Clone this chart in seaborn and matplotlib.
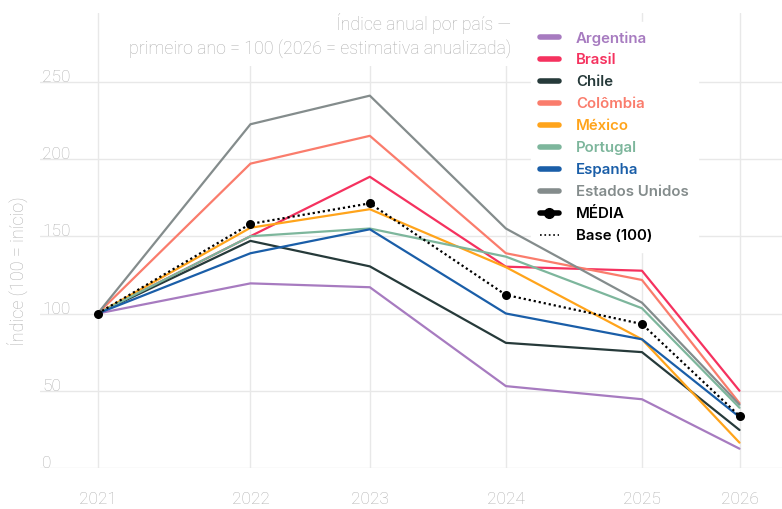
import numpy as np
import pandas as pd
import matplotlib
matplotlib.use("Agg")
import matplotlib.pyplot as plt
import seaborn as sns
from matplotlib.lines import Line2D
from matplotlib.transforms import blended_transform_factory

# ---------------- data ----------------
anos = ["2021", "2022", "2023", "2024", "2025", "2026"]
pos_x = [0.0, 1.19, 2.12, 3.18, 4.24, 5.0]   # position of each year on the (uneven) time axis

paises = ["Argentina", "Brasil", "Chile", "Colômbia", "México",
          "Portugal", "Espanha", "Estados Unidos"]
argentina = [100, 119.5, 117.0, 53.0, 44.5, 12.5]
brasil    = [100, 150.0, 188.5, 130.3, 127.7, 50.0]
chile     = [100, 147.0, 130.5, 81.0, 75.0, 24.6]
colombia  = [100, 197.0, 215.0, 139.0, 121.7, 42.0]
mexico    = [100, 155.5, 167.5, 130.0, 83.3, 16.4]
portugal  = [100, 150.0, 155.0, 136.8, 103.4, 39.0]
espanha   = [100, 139.0, 154.5, 100.0, 83.3, 33.0]
eua       = [100, 222.5, 241.0, 155.0, 107.0, 41.0]
media     = [100, 158.0, 171.3, 112.0, 93.2, 33.7]

y_ticks = [0, 50, 100, 150, 200, 250]

cores = {
    "Argentina": "#a77bc0",
    "Brasil": "#f5325f",
    "Chile": "#263a3a",
    "Colômbia": "#fa7c6c",
    "México": "#ffa41b",
    "Portugal": "#7db69c",
    "Espanha": "#1a5ea8",
    "Estados Unidos": "#848c8c",
}

series = [argentina, brasil, chile, colombia, mexico, portugal, espanha, eua]
df = pd.DataFrame({
    "pais": np.repeat(paises, len(anos)),
    "x": pos_x * len(paises),
    "indice": np.concatenate(series),
})
df_media = pd.DataFrame({"x": pos_x, "indice": media})

# ---------------- style ----------------
sns.set_theme(style="white")
plt.rcParams["font.family"] = ["Roboto", "DejaVu Sans"]
cinza = "#b0b0b0"
grade = "#e8e8e8"

fig = plt.figure(figsize=(7.82, 5.09), dpi=100)
ax = fig.add_axes([40 / 782, 41 / 509, 742 / 782, 455 / 509])

sns.lineplot(data=df, x="x", y="indice", hue="pais", palette=cores,
             hue_order=paises, linewidth=1.6, legend=False, ax=ax, sort=False,
             zorder=3)
sns.lineplot(data=df_media, x="x", y="indice", color="black", linewidth=1.6,
             linestyle=(0, (1, 1.3)), marker="o", markersize=6.5,
             markeredgewidth=0, legend=False, ax=ax, sort=False, zorder=4)

ax.set_xlim(-0.4495, 5.331)
ax.set_ylim(0, 294.5)
ax.set_xticks(pos_x)
ax.set_xticklabels(anos)
ax.set_yticks(y_ticks)
ax.set_yticklabels([])
ax.tick_params(axis="x", length=0, pad=17, labelsize=12.5, labelcolor=cinza)
ax.tick_params(axis="y", length=0)
for lab in ax.get_xticklabels():
    lab.set_fontweight("light")
ax.grid(True, color=grade, linewidth=1.0)
ax.set_axisbelow(True)
for s in ax.spines.values():
    s.set_visible(False)
ax.set_xlabel("")
ax.set_ylabel("")

trans = blended_transform_factory(ax.transAxes, ax.transData)
for v in y_ticks:
    ax.text(0.003, v, str(v), transform=trans, ha="left", va="baseline",
            fontsize=12.5, color=cinza, fontweight="light", zorder=2)

fig.text(17 / 782, 1 - 271 / 509, "Índice (100 = início)", rotation=90,
         ha="center", va="center", fontsize=13, color=cinza, fontweight="light")

ax.text(511 / 782, 1 - 13 / 509,
        "Índice anual por país —\nprimeiro ano = 100 (2026 = estimativa anualizada)",
        transform=fig.transFigure,
        ha="right", va="top", multialignment="right", fontsize=12.8,
        color=cinza, fontweight="light", linespacing=1.32,
        bbox=dict(boxstyle="square,pad=0.45", facecolor="white", edgecolor="none"),
        zorder=2.5)

handles = [Line2D([], [], color=cores[p], lw=4) for p in paises]
handles.append(Line2D([], [], color="black", lw=4, marker="o", markersize=7))
handles.append(Line2D([], [], color="black", lw=1.2, linestyle=":"))
labels = paises + ["MÉDIA", "Base (100)"]
leg = ax.legend(handles, labels, loc="upper left",
                bbox_to_anchor=(531 / 782, 1 - 22 / 509), bbox_transform=fig.transFigure,
                borderaxespad=0,
                frameon=True, fancybox=False, framealpha=1, edgecolor="white",
                facecolor="white", handlelength=1.25, handletextpad=1.15,
                labelspacing=0.53, borderpad=0.6,
                prop={"family": ["Inter", "DejaVu Sans"], "size": 10.8, "weight": "semibold"})
leg.set_zorder(2.5)
for txt, lab in zip(leg.get_texts(), labels):
    txt.set_color(cores.get(lab, "black"))

fig.savefig("out.png", dpi=100)
